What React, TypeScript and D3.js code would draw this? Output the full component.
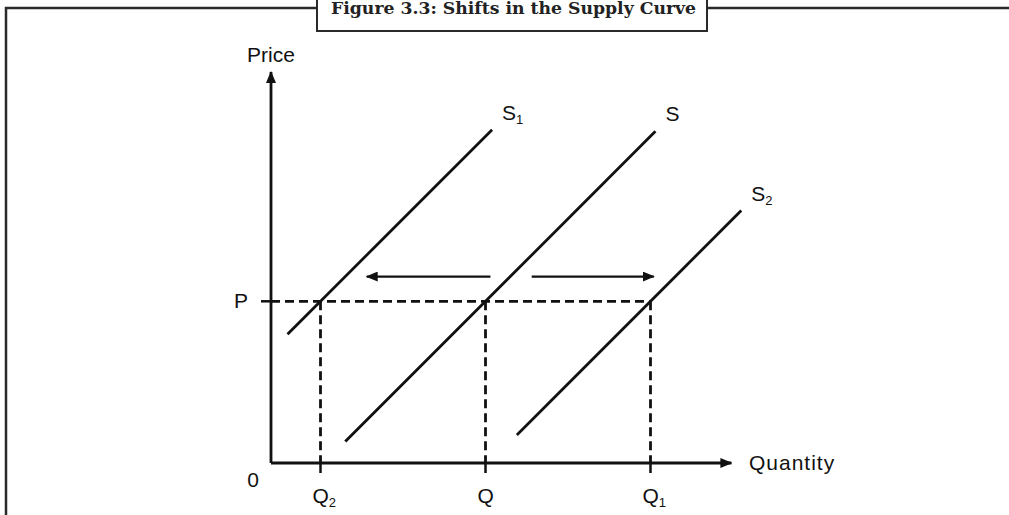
import React, { useEffect, useRef } from 'react';
import * as d3 from 'd3';

// chart values (quantity / price units)
const quantityTicks = [
  { label: 'Q', sub: '2', q: 3 },
  { label: 'Q', sub: '', q: 13 },
  { label: 'Q', sub: '1', q: 23 },
];
const priceTicks = [{ label: 'P', p: 9.8 }];
const supplyNames = ['S1', 'S', 'S2'];
const supplyStart = [
  [1, 7.8],
  [4.5, 1.3],
  [14.9, 1.7],
];
const supplyEnd = [
  [13.4, 20.2],
  [23.3, 20.1],
  [28.5, 15.3],
];
const shiftFrom = [13.3, 15.8];
const shiftTo = [5.8, 23.2];
const shiftLevel = 11.3;
const qMax = 27.9;
const pMax = 23.7;

const width = 1009;
const height = 515;
const ink = '#111';
const sans = '"Liberation Sans", Arial, sans-serif';

export default function App() {
  const ref = useRef<SVGSVGElement>(null);

  useEffect(() => {
    const svg = d3.select(ref.current);
    svg.selectAll('*').remove();

    const x = d3.scaleLinear().domain([0, 30]).range([271, 766]);
    const y = d3.scaleLinear().domain([0, 24]).range([463, 67]);

    // arrow heads
    const defs = svg.append('defs');
    defs
      .append('marker')
      .attr('id', 'head')
      .attr('viewBox', '0 0 12 10')
      .attr('refX', 11)
      .attr('refY', 5)
      .attr('markerWidth', 12)
      .attr('markerHeight', 10)
      .attr('markerUnits', 'userSpaceOnUse')
      .attr('orient', 'auto')
      .append('path')
      .attr('d', 'M0,0 L12,5 L0,10 Z')
      .attr('fill', ink);

    // outer frame and title box
    svg
      .append('path')
      .attr('d', `M${width + 5},8 H6 V${height + 5}`)
      .attr('fill', 'none')
      .attr('stroke', '#2a2a2a')
      .attr('stroke-width', 2.5);
    svg
      .append('rect')
      .attr('x', 317)
      .attr('y', -6)
      .attr('width', 390)
      .attr('height', 37)
      .attr('fill', '#fff')
      .attr('stroke', '#2a2a2a')
      .attr('stroke-width', 2);
    svg
      .append('text')
      .attr('x', 331)
      .attr('y', 14)
      .attr('textLength', 365)
      .attr('lengthAdjust', 'spacingAndGlyphs')
      .style('font-family', '"DejaVu Serif", "Liberation Serif", serif')
      .style('font-weight', 'bold')
      .style('font-size', '16px')
      .attr('fill', '#222')
      .text('Figure 3.3: Shifts in the Supply Curve');

    const line = d3
      .line<number[]>()
      .x((d) => x(d[0]))
      .y((d) => y(d[1]));

    // dashed guides
    const pLevel = priceTicks[0].p;
    const qLast = quantityTicks[quantityTicks.length - 1].q;
    svg
      .append('path')
      .attr('d', line([[0, pLevel], [qLast, pLevel]]))
      .attr('stroke', ink)
      .attr('stroke-width', 2.8)
      .attr('stroke-dasharray', '9,5');
    svg
      .selectAll('.guide')
      .data(quantityTicks)
      .enter()
      .append('path')
      .attr('class', 'guide')
      .attr('d', (d) => line([[d.q, pLevel], [d.q, 0]]))
      .attr('stroke', ink)
      .attr('stroke-width', 2.8)
      .attr('stroke-dasharray', '9,5');

    // axes
    svg
      .append('path')
      .attr('d', line([[0, 0], [0, pMax]]))
      .attr('stroke', ink)
      .attr('stroke-width', 2.8)
      .attr('marker-end', 'url(#head)');
    svg
      .append('path')
      .attr('d', line([[0, 0], [qMax, 0]]))
      .attr('stroke', ink)
      .attr('stroke-width', 2.8)
      .attr('marker-end', 'url(#head)');

    // ticks
    svg
      .selectAll('.qtick')
      .data(quantityTicks)
      .enter()
      .append('line')
      .attr('x1', (d) => x(d.q))
      .attr('x2', (d) => x(d.q))
      .attr('y1', y(0))
      .attr('y2', y(0) + 10)
      .attr('stroke', ink)
      .attr('stroke-width', 2.5);
    svg
      .selectAll('.ptick')
      .data(priceTicks)
      .enter()
      .append('line')
      .attr('x1', x(0) - 10)
      .attr('x2', x(0))
      .attr('y1', (d) => y(d.p))
      .attr('y2', (d) => y(d.p))
      .attr('stroke', ink)
      .attr('stroke-width', 2.5);

    const label = (g: d3.Selection<any, any, any, any>) =>
      g.style('font-family', sans).style('font-size', '21px').attr('fill', ink);

    const qLabels = svg
      .selectAll('.qlabel')
      .data(quantityTicks)
      .enter()
      .append('text')
      .attr('x', (d) => x(d.q) - 8)
      .attr('y', y(0) + 40)
      .call(label);
    qLabels.append('tspan').text((d) => d.label);
    qLabels
      .append('tspan')
      .attr('dy', 4)
      .style('font-size', '13px')
      .text((d) => d.sub);

    svg
      .selectAll('.plabel')
      .data(priceTicks)
      .enter()
      .append('text')
      .attr('x', x(0) - 30)
      .attr('y', (d) => y(d.p) + 7)
      .attr('text-anchor', 'middle')
      .call(label)
      .text((d) => d.label);

    svg.append('text').attr('x', 253).attr('y', y(0) + 24).attr('text-anchor', 'middle').call(label).text('0');
    svg.append('text').attr('x', 247).attr('y', 62).call(label).text('Price');
    svg
      .append('text')
      .attr('x', 749)
      .attr('y', y(0) + 7)
      .call(label)
      .style('letter-spacing', '1px')
      .text('Quantity');

    // supply curves
    const curves = supplyNames.map((name, i) => ({
      name,
      start: supplyStart[i],
      end: supplyEnd[i],
    }));
    svg
      .selectAll('.supply')
      .data(curves)
      .enter()
      .append('path')
      .attr('class', 'supply')
      .attr('d', (d) => line([d.start, d.end]))
      .attr('stroke', ink)
      .attr('stroke-width', 2.8);
    const sLabels = svg
      .selectAll('.slabel')
      .data(curves)
      .enter()
      .append('text')
      .attr('x', (d) => x(d.end[0]) + 10)
      .attr('y', (d) => y(d.end[1]) - 10)
      .call(label);
    sLabels.append('tspan').text((d) => d.name[0]);
    sLabels
      .append('tspan')
      .attr('dy', 4)
      .style('font-size', '13px')
      .text((d) => d.name.slice(1));

    // shift arrows
    svg
      .selectAll('.shift')
      .data(shiftFrom)
      .enter()
      .append('path')
      .attr('class', 'shift')
      .attr('d', (d, i) => line([[d, shiftLevel], [shiftTo[i], shiftLevel]]))
      .attr('stroke', ink)
      .attr('stroke-width', 2.2)
      .attr('marker-end', 'url(#head)');
  }, []);

  return (
    <svg
      ref={ref}
      width={width}
      height={height}
      style={{ position: 'absolute', left: 0, top: 0, background: '#fff' }}
    />
  );
}
